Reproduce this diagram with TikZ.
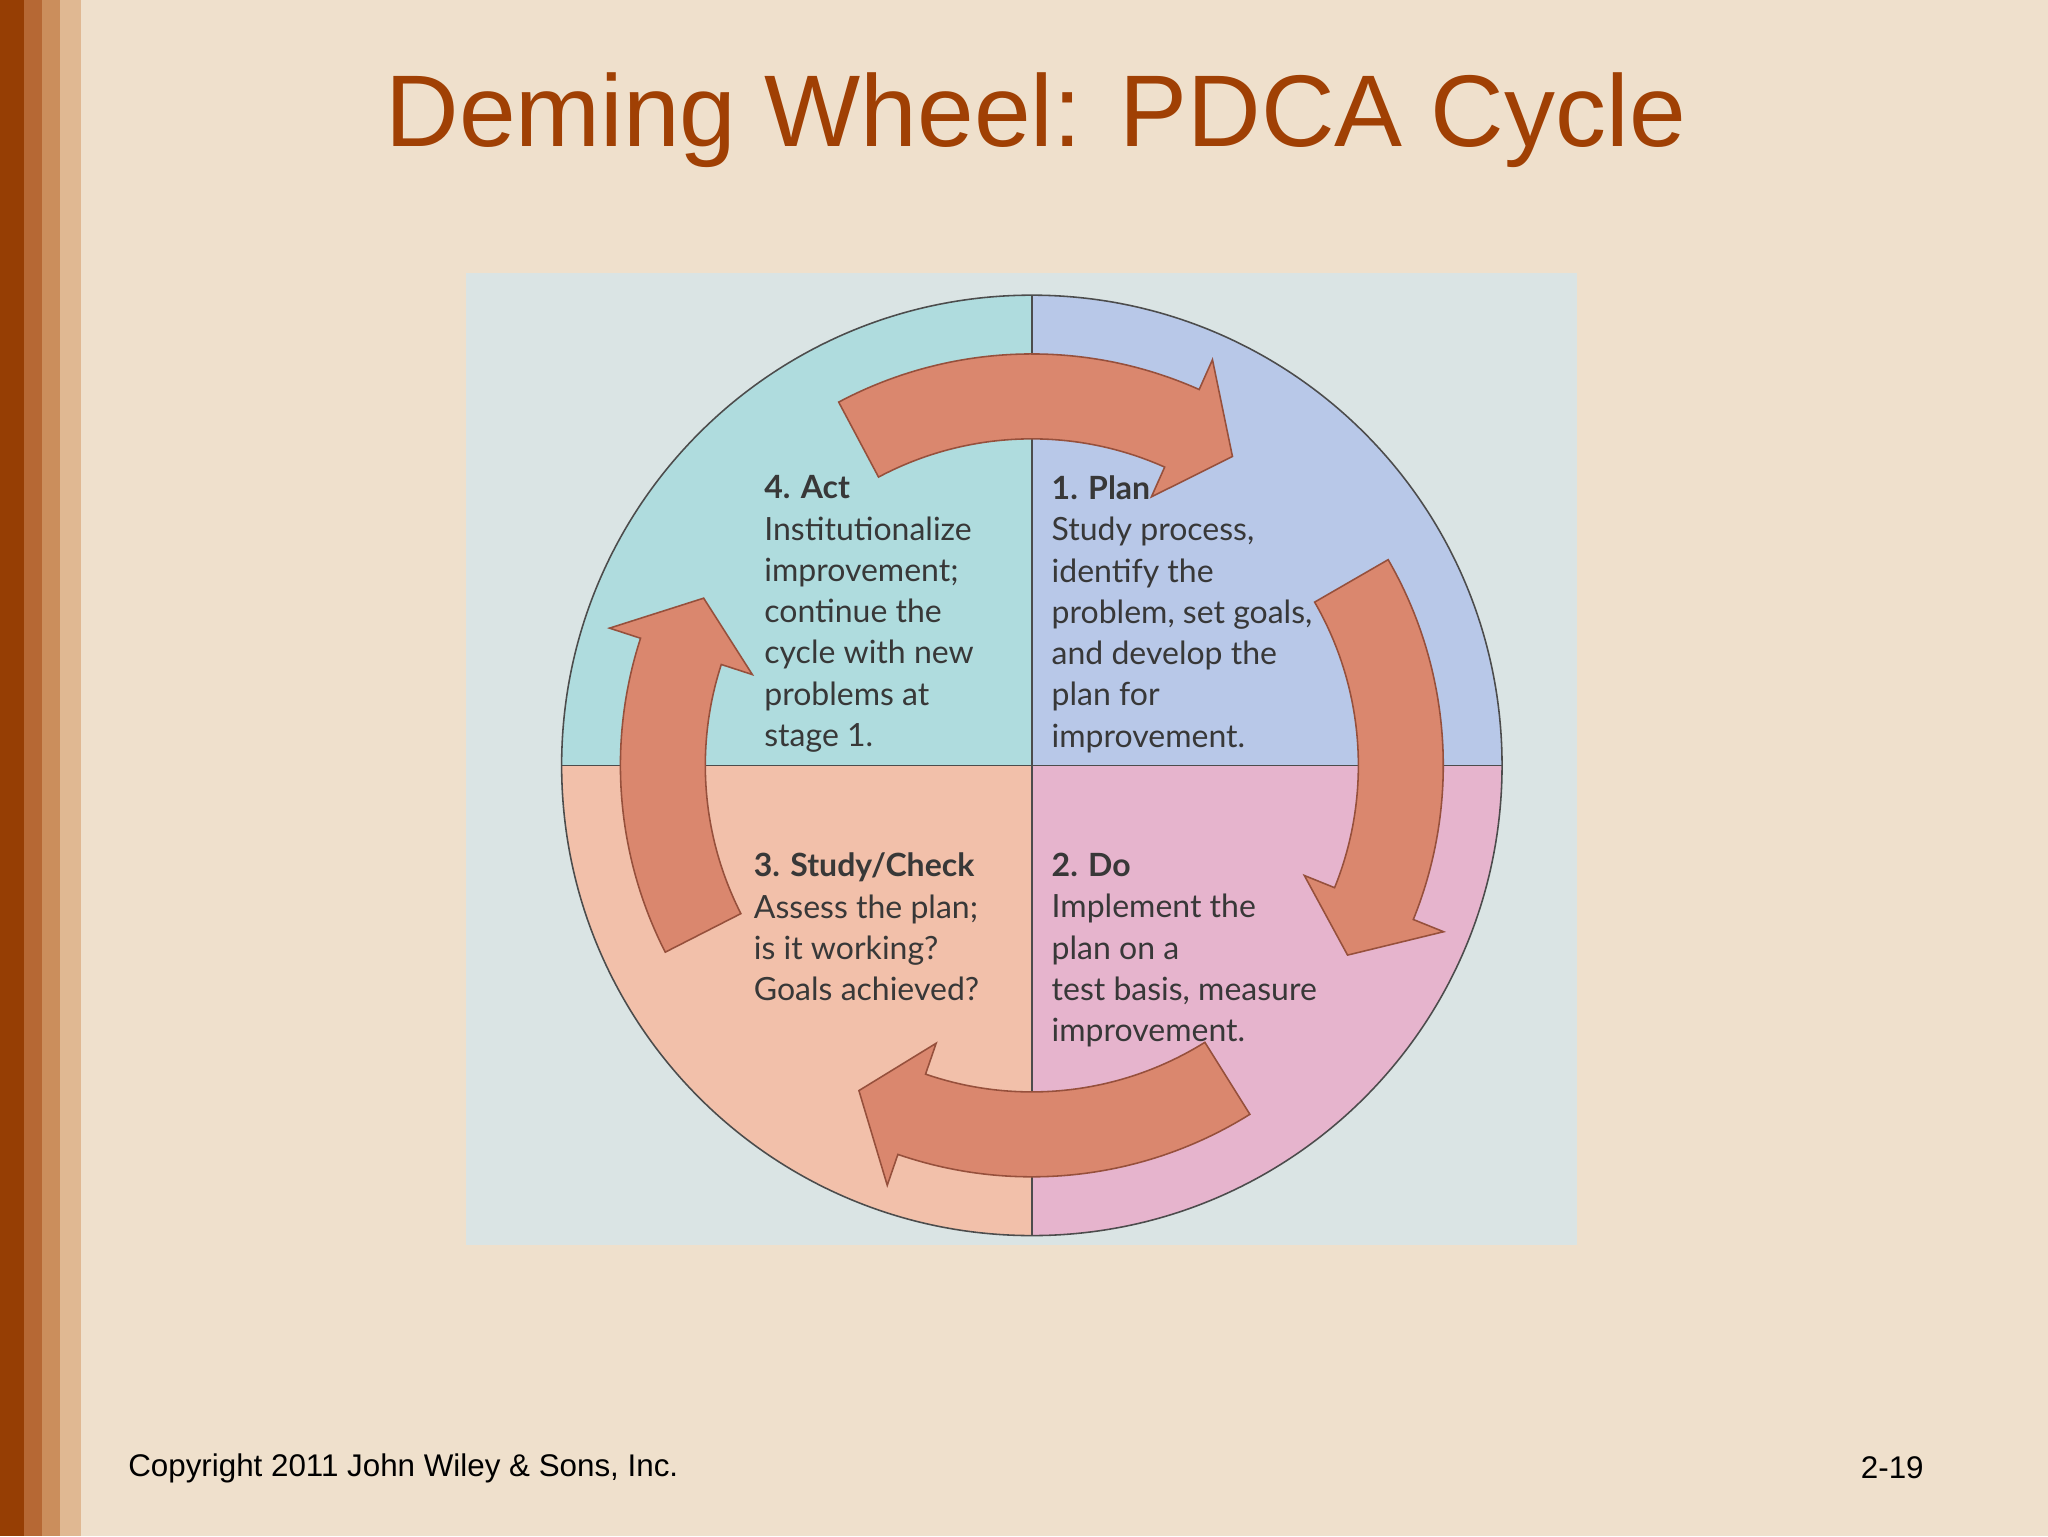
\documentclass[tikz,border=0pt]{standalone}
\usepackage{fontspec}
\setmainfont{Liberation Sans}
\newfontfamily\wheelfont{Lato}
\begin{document}
\begin{tikzpicture}[x=1pt,y=1pt,
  txt/.style={anchor=north west,align=left,inner sep=0pt,text=black!78,font=\wheelfont\fontsize{24.5}{31.6}\selectfont},
  arr/.style={fill=arrowc,draw=arrowd,line width=1.2pt}]
\definecolor{bg}{RGB}{239,224,204}
\definecolor{s1}{RGB}{150,62,4}
\definecolor{s2}{RGB}{182,104,52}
\definecolor{s3}{RGB}{203,142,92}
\definecolor{s4}{RGB}{224,184,146}
\definecolor{titlec}{RGB}{160,64,4}
\definecolor{boxc}{RGB}{218,228,228}
\definecolor{qtl}{RGB}{175,220,222}
\definecolor{qtr}{RGB}{184,200,232}
\definecolor{qbl}{RGB}{242,192,170}
\definecolor{qbr}{RGB}{230,180,205}
\definecolor{arrowc}{RGB}{218,135,110}
\definecolor{arrowd}{RGB}{150,80,60}
\useasboundingbox (0,0) rectangle (1568,1176);
\fill[bg] (0,0) rectangle (1568,1176);
\fill[s1] (0,0) rectangle (18,1176);
\fill[s2] (18,0) rectangle (32,1176);
\fill[s3] (32,0) rectangle (46,1176);
\fill[s4] (46,0) rectangle (62,1176);
\node (title) at (793,1084) {\fontsize{78}{90}\selectfont\color{titlec}Deming Wheel: PDCA Cycle};
\fill[boxc] (357,223) rectangle (1207,967);
\begin{scope}[shift={(790,590)}]
\fill[qtr] (0,0) -- (0:360) arc(0:90:360) -- cycle;
\fill[qtl] (0,0) -- (90:360) arc(90:180:360) -- cycle;
\fill[qbl] (0,0) -- (180:360) arc(180:270:360) -- cycle;
\fill[qbr] (0,0) -- (270:360) arc(270:360:360) -- cycle;
\draw[black!70,line width=1.2pt] (0,0) circle (360);
\draw[black!70,line width=1.2pt] (-360,0) -- (360,0) (0,-360) -- (0,360);
\foreach \a/\b in {118/66, 30/-22, -58/-109, 207/162}{
  \pgfmathsetmacro{\h}{\b-9}
  \draw[arr] (\a:315) arc(\a:\b:315) -- (\b:340) -- (\h:282) -- (\b:225) -- (\b:250) arc(\b:\a:250) -- cycle;
}
\end{scope}
\node[txt] (act) at (585,812) {\textbf{4. Act}\\Institutionalize\\improvement;\\continue the\\cycle with new\\problems at\\stage 1.};
\node[txt] (plan) at (805,812) {\textbf{1. Plan}\\Study process,\\identify the\\problem, set goals,\\and develop the\\plan for\\improvement.};
\node[txt] (check) at (577,523) {\textbf{3. Study/Check}\\Assess the plan;\\is it working?\\Goals achieved?};
\node[txt] (do) at (805,523) {\textbf{2. Do}\\Implement the\\plan on a\\test basis, measure\\improvement.};
\node[anchor=west,inner sep=0pt] (copy) at (98,52) {\fontsize{24}{28}\selectfont Copyright 2011 John Wiley \& Sons, Inc.};
\node[anchor=east,inner sep=0pt] (pg) at (1473,52) {\fontsize{24}{28}\selectfont 2-19};
\end{tikzpicture}
\end{document}
